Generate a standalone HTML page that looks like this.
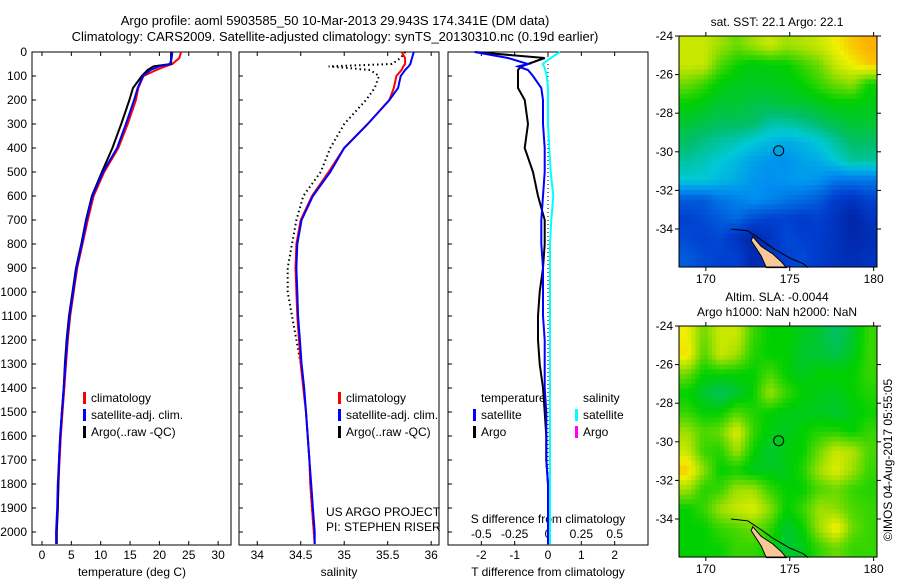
<!DOCTYPE html>
<html><head><meta charset="utf-8"><style>
body{margin:0;background:#fff}
svg{display:block;font-family:"Liberation Sans",sans-serif}
text{font-size:12px;fill:#000}
</style></head><body>
<svg id="s" width="900" height="580" viewBox="0 0 900 580">
<text x="335" y="25" text-anchor="middle" style="font-size:13px">Argo profile: aoml 5903585_50 10-Mar-2013 29.943S 174.341E (DM data)</text>
<text x="335" y="41" text-anchor="middle" style="font-size:13px">Climatology: CARS2009. Satellite-adjusted climatology: synTS_20130310.nc (0.19d earlier)</text>
<text x="777" y="26" text-anchor="middle">sat. SST: 22.1  Argo: 22.1</text>
<text x="777" y="301" text-anchor="middle">Altim. SLA: -0.0044</text>
<text x="777" y="316" text-anchor="middle">Argo h1000: NaN h2000: NaN</text>
<text transform="translate(892,460) rotate(-90)" text-anchor="middle">©IMOS 04-Aug-2017 05:55:05</text>
<g id="g"></g>
</svg>
<script>
const depths=[0,25,50,60,75,100,150,200,300,400,500,600,700,800,900,1000,1100,1200,1300,1400,1500,1600,1700,1800,1900,2000,2050];
const tClim=[23.7,23.4,22.2,21,19.5,17.3,16.4,16.0,14.6,13.0,10.6,8.8,7.8,6.9,6.0,5.4,4.8,4.4,4.1,3.8,3.5,3.2,3.0,2.8,2.7,2.5,2.5];
const tSat=[22.2,22.1,21.8,20,18.5,17.2,16.3,15.7,14.3,12.8,10.4,8.6,7.6,6.8,5.9,5.3,4.7,4.3,4.0,3.7,3.4,3.1,2.9,2.7,2.6,2.4,2.4];
const tArgo=[22.0,22.0,22.0,19,18.0,17.0,15.5,14.9,13.5,12.0,10.2,8.5,7.5,6.7,5.8,5.2,4.6,4.2,3.9,3.7,3.4,3.1,2.9,2.8,2.7,2.5,2.5];
const sClim=[35.66,35.7,35.7,35.68,35.66,35.6,35.57,35.52,35.27,35.0,34.82,34.63,34.5,34.45,34.44,34.45,34.46,34.48,34.5,34.53,34.56,34.58,34.6,34.61,34.63,34.65,34.66];
const sSat=[35.8,35.78,35.76,35.74,35.7,35.65,35.62,35.52,35.27,35.0,34.84,34.64,34.51,34.46,34.45,34.46,34.47,34.49,34.51,34.54,34.56,34.58,34.6,34.62,34.64,34.66,34.66];
const sArgo=[35.7,35.65,35.55,34.82,35.3,35.4,35.35,35.25,35.0,34.84,34.73,34.53,34.45,34.4,34.35,34.35,34.4,34.45,34.5,34.53,34.56,34.58,34.6,34.61,34.63,34.65,34.66];
const dtSat=[-2.2,-1.2,-0.6,-0.9,-0.6,-0.45,-0.2,-0.15,-0.15,-0.1,-0.1,-0.15,-0.2,-0.2,-0.15,-0.15,-0.15,-0.1,-0.1,-0.1,-0.05,-0.05,-0.05,0,0,0,0];
const dtArgo=[-2.2,-0.1,-0.6,-0.8,-0.9,-0.9,-0.9,-0.7,-0.6,-0.7,-0.45,-0.3,-0.1,-0.1,-0.15,-0.25,-0.3,-0.3,-0.25,-0.15,-0.1,-0.05,-0.05,0,0,0,0];
const dsSat=[0.09,0.02,-0.04,-0.03,-0.02,-0.01,0.0,0.0,0.0,0.01,0.02,0.04,0.025,0.015,0.015,0.015,0.015,0.015,0.015,0.015,0.015,0.015,0.015,0.015,0.015,0.015,0.015];
const tTicks=[0,5,10,15,20,25,30];
const sTicks=[34,34.5,35,35.5,36];
const sTickLabels=["34","34.5","35","35.5","36"];
const dTicks=[-2,-1,0,1,2];
const dsTicks=[-0.5,-0.25,0,0.25,0.5];
const dsTickLabels=["-0.5","-0.25","0","0.25","0.5"];
const depthTicks=[0,100,200,300,400,500,600,700,800,900,1000,1100,1200,1300,1400,1500,1600,1700,1800,1900,2000];
const lonTicks=[170,175,180];
const latTicks=[-24,-26,-28,-30,-32,-34];
const sstGrid=[
[.85,.85,.8,.75,.8,.85,.8,.82,.85,.9,.95,.98],
[.85,.85,.72,.66,.63,.64,.65,.7,.75,.85,.9,.95],
[.75,.7,.64,.62,.62,.62,.63,.65,.7,.75,.78,.66],
[.65,.63,.6,.6,.58,.58,.6,.6,.62,.64,.64,.63],
[.6,.58,.56,.56,.55,.5,.5,.52,.55,.58,.6,.6],
[.55,.52,.5,.48,.45,.42,.4,.42,.45,.5,.55,.55],
[.5,.48,.45,.42,.38,.36,.35,.38,.4,.45,.5,.5],
[.45,.45,.42,.4,.36,.35,.36,.37,.35,.3,.3,.3],
[.25,.25,.3,.32,.35,.33,.3,.28,.25,.18,.15,.2],
[.2,.22,.25,.28,.22,.2,.2,.18,.2,.15,.08,.15],
[.22,.2,.22,.15,.1,.15,.22,.2,.18,.15,.1,.12],
[.25,.22,.2,.2,.1,.15,.2,.22,.18,.15,.12,.15]];
const slaGrid=[
[.9,.75,.85,.85,.7,.65,.65,.62,.6,.55,.6,.7],
[.92,.72,.85,.8,.68,.65,.65,.6,.6,.58,.62,.7],
[.75,.65,.65,.65,.65,.72,.65,.62,.65,.65,.65,.7],
[.65,.6,.56,.6,.65,.8,.7,.65,.63,.62,.65,.68],
[.7,.65,.65,.72,.68,.65,.63,.62,.62,.6,.63,.66],
[.8,.72,.75,.88,.7,.63,.62,.65,.68,.68,.65,.7],
[.85,.7,.68,.8,.66,.6,.64,.65,.75,.85,.82,.72],
[.95,.78,.65,.66,.62,.62,.62,.68,.8,.88,.8,.7],
[.8,.68,.7,.8,.8,.7,.65,.65,.72,.75,.7,.68],
[.65,.7,.8,.85,.88,.78,.65,.7,.8,.78,.72,.7],
[.65,.65,.7,.72,.75,.7,.6,.65,.8,.92,.75,.7],
[.65,.65,.66,.7,.7,.65,.6,.62,.7,.75,.7,.7]];
const landLon=[172.8,173.3,174.0,174.5,174.8,173.6,173.3,172.7];
const landLat=[-34.4,-34.9,-35.3,-35.7,-36.0,-36.0,-35.4,-34.6];
const coastLon=[171.5,172.5,173.2,174.0,175.0,175.8,176.1];
const coastLat=[-34.0,-34.1,-34.5,-35.0,-35.5,-35.8,-36.0];
const argoLon=174.341, argoLat=-29.943;

const NS='http://www.w3.org/2000/svg';
const G=document.getElementById('g');
function mk(tag,attrs,parent){const e=document.createElementNS(NS,tag);for(const k in attrs)e.setAttribute(k,attrs[k]);(parent||G).appendChild(e);return e;}
function txt(x,y,s,anchor,parent){const e=mk('text',{x:x,y:y,'text-anchor':anchor||'middle'},parent);e.textContent=s;return e;}

const PT=52,PB=545;
const yD=d=>PT+d*0.24;
const P1={l:32,r:231,min:-1.7,max:32.2};
const P2={l:239,r:439,min:33.79,max:36.09};
const P3={l:448,r:648,min:-3,max:3};
const xs=(P,v)=>P.l+(v-P.min)/(P.max-P.min)*(P.r-P.l);

function frame(P,name){
  const r=mk('rect',{x:P.l,y:PT,width:P.r-P.l,height:PB-PT,fill:'none',stroke:'#000','stroke-width':1});
  
  
}
function line(P,vals,color,name,dash){
  const pts=vals.map((v,i)=>xs(P,v).toFixed(1)+','+yD(depths[i]).toFixed(1)).join(' ');
  const e=mk('polyline',{points:pts,fill:'none',stroke:color,'stroke-width':2,'stroke-dasharray':dash||'none'});
  
  
}
frame(P1,'temperature-panel');frame(P2,'salinity-panel');frame(P3,'difference-panel');
depthTicks.forEach(d=>{
  const y=yD(d);
  [P1,P2,P3].forEach(P=>{mk('line',{x1:P.l,y1:y,x2:P.l+4,y2:y,stroke:'#000'});});
  const t=txt(27,y+4,String(d),'end');
  
  
});
function xticks(P,ticks,labels,name){
  ticks.forEach((v,i)=>{
    const x=xs(P,v);
    mk('line',{x1:x,y1:PB,x2:x,y2:PB-4,stroke:'#000'});
    mk('line',{x1:x,y1:PT,x2:x,y2:PT+4,stroke:'#000'});
    const t=txt(x,559,labels?labels[i]:String(v));
    
    
  });
}
xticks(P1,tTicks,null,'temperature-tick-label');
xticks(P2,sTicks,sTickLabels,'salinity-tick-label');
xticks(P3,dTicks,null,'t-diff-tick-label');
dsTicks.forEach((v,i)=>{const t=txt(xs(P3,v*4),538,dsTickLabels[i]);});
let a;
a=txt(132,576,'temperature (deg C)');
a=txt(339,576,'salinity');
a=txt(548,576,'T difference from climatology');
a=txt(548,523,'S difference from climatology');
a=txt(326,516,'US ARGO PROJECT','start');
a=txt(326,531,'PI: STEPHEN RISER','start');
mk('line',{x1:xs(P3,0),y1:PT,x2:xs(P3,0),y2:PB,stroke:'#000','stroke-dasharray':'1,3'});
line(P1,tClim,'#f00','temp-climatology-line');
line(P1,tArgo,'#000','temp-argo-line');
line(P1,tSat,'#00f','temp-satellite-line');
line(P2,sArgo,'#000','sal-argo-line','1.5,3');
line(P2,sClim,'#f00','sal-climatology-line');
line(P2,sSat,'#00f','sal-satellite-line');
line(P3,dtArgo,'#000','tdiff-argo-line');
line(P3,dtSat,'#00f','tdiff-satellite-line');
line(P3,dsSat.map(v=>v*4),'#0ff','sdiff-satellite-line');
function leg(x,y,color,label,name){
  if(color)mk('rect',{x:x,y:y-10,width:3,height:12,fill:color});
  const t=txt(x+8,y,label,'start');
  
  
}
[[83,'#f00','climatology'],[83,'#00f','satellite-adj. clim.'],[83,'#000','Argo(..raw -QC)']].forEach((l,i)=>leg(l[0],402+i*17,l[1],l[2],'temp-legend-entry'));
[[338,'#f00','climatology'],[338,'#00f','satellite-adj. clim.'],[338,'#000','Argo(..raw -QC)']].forEach((l,i)=>leg(l[0],402+i*17,l[1],l[2],'sal-legend-entry'));
leg(473,402,null,'temperature','diff-legend-header');
leg(575,402,null,'salinity','diff-legend-header');
leg(473,419,'#00f','satellite','diff-legend-entry');
leg(473,436,'#000','Argo','diff-legend-entry');
leg(575,419,'#0ff','satellite','diff-legend-entry');
leg(575,436,'#f0f','Argo','diff-legend-entry');

const stops=[[0,[0,16,138]],[0.2,[0,64,208]],[0.35,[0,144,240]],[0.45,[0,200,216]],[0.55,[0,190,100]],[0.65,[0,208,0]],[0.8,[160,224,0]],[0.9,[240,240,0]],[1,[255,160,0]]];
function cmap(v){v=Math.max(0,Math.min(1,v));for(let i=1;i<stops.length;i++){if(v<=stops[i][0]){const a=stops[i-1],b=stops[i],f=(v-a[0])/(b[0]-a[0]);return 'rgb('+a[1].map((c,k)=>Math.round(c+(b[1][k]-c)*f)).join(',')+')';}}return 'rgb(255,160,0)';}
function sample(grid,fr,fc){
  const R=grid.length-1,C=grid[0].length-1;
  fr=Math.max(0,Math.min(R,fr));fc=Math.max(0,Math.min(C,fc));
  const r0=Math.floor(fr),c0=Math.floor(fc),r1=Math.min(R,r0+1),c1=Math.min(C,c0+1),dr=fr-r0,dc=fc-c0;
  return grid[r0][c0]*(1-dr)*(1-dc)+grid[r0][c1]*(1-dr)*dc+grid[r1][c0]*dr*(1-dc)+grid[r1][c1]*dr*dc;
}
function map(top,grid,name){
  const L=679,R=877,lonMin=168.4,lonMax=180.2,latTop=-24,kLat=19.3;
  const xl=lon=>L+(lon-lonMin)/(lonMax-lonMin)*(R-L);
  const yl=lat=>top+(latTop-lat)*kLat;
  const B=yl(-35.97);
  const g=mk('g',{});
  
  
  const sub=4, nr=grid.length*sub, nc=grid[0].length*sub;
  const cw=(R-L)/nc, ch=(B-top)/nr;
  for(let r=0;r<nr;r++)for(let c=0;c<nc;c++){
    const v=sample(grid,(r+0.5)/sub-0.5,(c+0.5)/sub-0.5);
    const e=mk('rect',{x:(L+c*cw).toFixed(2),y:(top+r*ch).toFixed(2),width:(cw+0.5).toFixed(2),height:(ch+0.5).toFixed(2),fill:cmap(v)},g);
    
    
  }
  const land=mk('polygon',{points:landLon.map((lo,i)=>xl(lo).toFixed(1)+','+yl(landLat[i]).toFixed(1)).join(' '),fill:'#f8c898',stroke:'#000','stroke-width':1},g);
  
  
  const cst=mk('polyline',{points:coastLon.map((lo,i)=>xl(lo).toFixed(1)+','+yl(coastLat[i]).toFixed(1)).join(' '),fill:'none',stroke:'#000','stroke-width':1},g);
  
  
  const c=mk('circle',{cx:xl(argoLon),cy:yl(argoLat),r:5,fill:'none',stroke:'#000','stroke-width':1},g);
  
  
  mk('rect',{x:L,y:top,width:R-L,height:B-top,fill:'none',stroke:'#000'},g);
  lonTicks.forEach(lo=>{const x=xl(lo);mk('line',{x1:x,y1:top,x2:x,y2:top-4,stroke:'#000'},g);mk('line',{x1:x,y1:B,x2:x,y2:B+4,stroke:'#000'},g);
    const t=txt(x,B+16,String(lo),'middle',g);});
  latTicks.forEach(la=>{const y=yl(la);mk('line',{x1:L,y1:y,x2:L-4,y2:y,stroke:'#000'},g);mk('line',{x1:R,y1:y,x2:R+4,y2:y,stroke:'#000'},g);
    const t=txt(L-6,y+4,String(la),'end',g);});
}
map(36,sstGrid,'sst-map');
map(326,slaGrid,'sla-map');
</script>
</body></html>
